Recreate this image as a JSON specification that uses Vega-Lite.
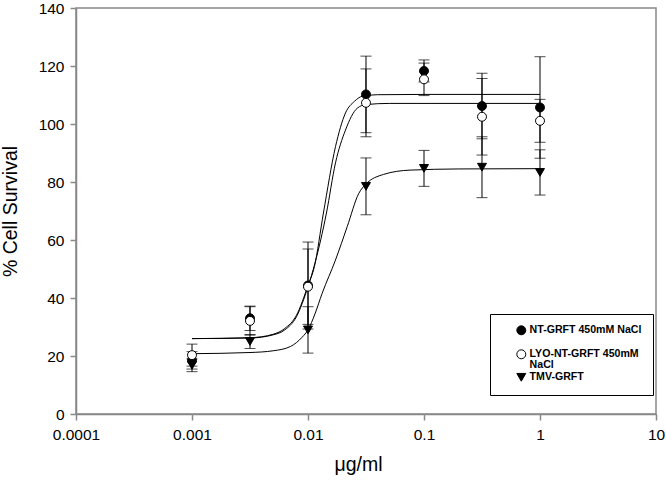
{
  "$schema": "https://vega.github.io/schema/vega-lite/v6.json",
  "width": 580,
  "height": 406,
  "autosize": "none",
  "padding": {"left": 76, "top": 8, "right": 10, "bottom": 72},
  "background": "white",
  "config": {
    "view": {"stroke": "#888888", "strokeWidth": 1.5},
    "style": {"guide-label": {"lineHeight": 10.5}},
    "axis": {
      "grid": false,
      "domainColor": "#888888",
      "domainWidth": 1.5,
      "tickColor": "#888888",
      "tickWidth": 1.5,
      "tickSize": 6,
      "labelFont": "Liberation Sans",
      "labelFontSize": 15.5,
      "labelColor": "black",
      "titleFont": "Liberation Sans",
      "titleFontSize": 19.5,
      "titleFontWeight": "normal",
      "titleColor": "black"
    },
    "legend": {
      "orient": "none", "legendX": 414, "legendY": 306, "title": null,
      "strokeColor": "black", "fillColor": "white", "padding": 11,
      "symbolOffset": 15, "symbolSize": 80, "symbolStrokeColor": "black", "symbolStrokeWidth": 1,
      "labelFont": "Liberation Sans", "labelFontWeight": "bold", "labelFontSize": 10.6, "labelColor": "black",
      "labelOffset": 3, "labelLimit": 0, "rowPadding": 0
    }
  },
  "datasets": {
    "pts": [
      {"dose": 0.001, "v": 16.8, "lo": 14.6, "hi": 19.0, "series": "TMV-GRFT"},
      {"dose": 0.003162, "v": 25.0, "lo": 22.6, "hi": 27.4, "series": "TMV-GRFT"},
      {"dose": 0.01, "v": 29.0, "lo": 21.0, "hi": 37.0, "series": "TMV-GRFT"},
      {"dose": 0.03162, "v": 78.5, "lo": 68.7, "hi": 88.3, "series": "TMV-GRFT"},
      {"dose": 0.1, "v": 84.7, "lo": 78.5, "hi": 90.9, "series": "TMV-GRFT"},
      {"dose": 0.3162, "v": 85.1, "lo": 74.6, "hi": 95.6, "series": "TMV-GRFT"},
      {"dose": 1, "v": 83.3, "lo": 75.5, "hi": 91.1, "series": "TMV-GRFT"},
      {"dose": 0.001, "v": 18.5, "lo": 15.5, "hi": 21.5, "series": "NT-GRFT 450mM NaCl"},
      {"dose": 0.003162, "v": 33.0, "lo": 28.8, "hi": 37.2, "series": "NT-GRFT 450mM NaCl"},
      {"dose": 0.01, "v": 44.3, "lo": 29.3, "hi": 59.3, "series": "NT-GRFT 450mM NaCl"},
      {"dose": 0.03162, "v": 110.2, "lo": 97.0, "hi": 123.4, "series": "NT-GRFT 450mM NaCl"},
      {"dose": 0.1, "v": 118.3, "lo": 114.5, "hi": 122.1, "series": "NT-GRFT 450mM NaCl"},
      {"dose": 0.3162, "v": 106.2, "lo": 94.9, "hi": 117.5, "series": "NT-GRFT 450mM NaCl"},
      {"dose": 1, "v": 105.7, "lo": 88.2, "hi": 123.2, "series": "NT-GRFT 450mM NaCl"},
      {"dose": 0.001, "v": 20.3, "lo": 16.5, "hi": 24.1, "series": "LYO-NT-GRFT 450mM NaCl"},
      {"dose": 0.003162, "v": 32.1, "lo": 27.2, "hi": 37.0, "series": "LYO-NT-GRFT 450mM NaCl"},
      {"dose": 0.01, "v": 43.9, "lo": 30.9, "hi": 56.9, "series": "LYO-NT-GRFT 450mM NaCl"},
      {"dose": 0.03162, "v": 107.3, "lo": 95.6, "hi": 119.0, "series": "LYO-NT-GRFT 450mM NaCl"},
      {"dose": 0.1, "v": 115.4, "lo": 109.8, "hi": 121.0, "series": "LYO-NT-GRFT 450mM NaCl"},
      {"dose": 0.3162, "v": 102.5, "lo": 89.3, "hi": 115.7, "series": "LYO-NT-GRFT 450mM NaCl"},
      {"dose": 1, "v": 101.1, "lo": 93.7, "hi": 108.5, "series": "LYO-NT-GRFT 450mM NaCl"}
    ],
    "curves": [
      {"dose": 0.001, "v": 26.0, "series": "NT"},
      {"dose": 0.003162, "v": 26.3, "series": "NT"},
      {"dose": 0.005012, "v": 27.5, "series": "NT"},
      {"dose": 0.00631, "v": 29.5, "series": "NT"},
      {"dose": 0.007943, "v": 34.0, "series": "NT"},
      {"dose": 0.01, "v": 44.3, "series": "NT"},
      {"dose": 0.01135, "v": 50.8, "series": "NT"},
      {"dose": 0.01358, "v": 69.3, "series": "NT"},
      {"dose": 0.01726, "v": 92.2, "series": "NT"},
      {"dose": 0.02104, "v": 103.8, "series": "NT"},
      {"dose": 0.02512, "v": 107.8, "series": "NT"},
      {"dose": 0.02951, "v": 109.6, "series": "NT"},
      {"dose": 0.03981, "v": 110.1, "series": "NT"},
      {"dose": 0.1, "v": 110.2, "series": "NT"},
      {"dose": 1, "v": 110.2, "series": "NT"},
      {"dose": 0.001, "v": 26.0, "series": "LYO"},
      {"dose": 0.003162, "v": 26.2, "series": "LYO"},
      {"dose": 0.005012, "v": 27.3, "series": "LYO"},
      {"dose": 0.00631, "v": 29.0, "series": "LYO"},
      {"dose": 0.007943, "v": 33.5, "series": "LYO"},
      {"dose": 0.01, "v": 43.9, "series": "LYO"},
      {"dose": 0.01148, "v": 52.0, "series": "LYO"},
      {"dose": 0.01442, "v": 69.3, "series": "LYO"},
      {"dose": 0.01726, "v": 86.6, "series": "LYO"},
      {"dose": 0.02104, "v": 97.9, "series": "LYO"},
      {"dose": 0.02667, "v": 105.5, "series": "LYO"},
      {"dose": 0.03162, "v": 106.7, "series": "LYO"},
      {"dose": 0.05012, "v": 107.1, "series": "LYO"},
      {"dose": 1, "v": 107.1, "series": "LYO"},
      {"dose": 0.001, "v": 20.8, "series": "TMV"},
      {"dose": 0.003162, "v": 21.2, "series": "TMV"},
      {"dose": 0.005012, "v": 21.8, "series": "TMV"},
      {"dose": 0.007079, "v": 23.3, "series": "TMV"},
      {"dose": 0.008913, "v": 26.5, "series": "TMV"},
      {"dose": 0.01, "v": 29.0, "series": "TMV"},
      {"dose": 0.01148, "v": 34.5, "series": "TMV"},
      {"dose": 0.01324, "v": 41.6, "series": "TMV"},
      {"dose": 0.01726, "v": 53.1, "series": "TMV"},
      {"dose": 0.02178, "v": 64.6, "series": "TMV"},
      {"dose": 0.02742, "v": 76.1, "series": "TMV"},
      {"dose": 0.03162, "v": 79.3, "series": "TMV"},
      {"dose": 0.04467, "v": 82.6, "series": "TMV"},
      {"dose": 0.07586, "v": 84.1, "series": "TMV"},
      {"dose": 0.1995, "v": 84.5, "series": "TMV"},
      {"dose": 1, "v": 84.6, "series": "TMV"}
    ]
  },
  "layer": [
    {
      "data": {"name": "curves"},
      "mark": {"type": "line", "color": "black", "strokeWidth": 1, "interpolate": "monotone"},
      "encoding": {
        "x": {
          "field": "dose", "type": "quantitative",
          "scale": {"type": "log", "domain": [0.0001, 10], "nice": false},
          "axis": {"values": [0.0001, 0.001, 0.01, 0.1, 1, 10], "format": "~g", "title": "μg/ml", "labelPadding": 7, "titlePadding": 13, "titleX": 282, "labelFlush": false}
        },
        "y": {
          "field": "v", "type": "quantitative",
          "scale": {"domain": [0, 140], "nice": false},
          "axis": {"values": [0, 20, 40, 60, 80, 100, 120, 140], "title": "% Cell Survival", "labelPadding": 6, "titlePadding": 18}
        },
        "detail": {"field": "series"}
      }
    },
    {
      "data": {"name": "pts"},
      "mark": {"type": "rule", "color": "black", "strokeWidth": 1},
      "encoding": {
        "x": {"field": "dose", "type": "quantitative"},
        "y": {"field": "lo", "type": "quantitative"},
        "y2": {"field": "hi"}
      }
    },
    {
      "data": {"name": "pts"},
      "mark": {"type": "tick", "orient": "horizontal", "color": "black", "thickness": 1, "size": 11},
      "encoding": {
        "x": {"field": "dose", "type": "quantitative"},
        "y": {"field": "lo", "type": "quantitative"}
      }
    },
    {
      "data": {"name": "pts"},
      "mark": {"type": "tick", "orient": "horizontal", "color": "black", "thickness": 1, "size": 11},
      "encoding": {
        "x": {"field": "dose", "type": "quantitative"},
        "y": {"field": "hi", "type": "quantitative"}
      }
    },
    {
      "data": {"name": "pts"},
      "mark": {"type": "point", "filled": true, "strokeWidth": 1, "size": 80, "opacity": 1},
      "encoding": {
        "x": {"field": "dose", "type": "quantitative"},
        "y": {"field": "v", "type": "quantitative"},
        "shape": {
          "field": "series", "type": "nominal",
          "scale": {"domain": ["NT-GRFT 450mM NaCl", "LYO-NT-GRFT 450mM NaCl", "TMV-GRFT"], "range": ["circle", "circle", "triangle-down"]},
          "legend": {"labelExpr": "datum.label == 'LYO-NT-GRFT 450mM NaCl' ? ['LYO-NT-GRFT 450mM', 'NaCl'] : datum.label == 'NT-GRFT 450mM NaCl' ? ['NT-GRFT 450mM NaCl', ''] : datum.label"}
        },
        "fill": {
          "field": "series", "type": "nominal",
          "scale": {"domain": ["NT-GRFT 450mM NaCl", "LYO-NT-GRFT 450mM NaCl", "TMV-GRFT"], "range": ["black", "white", "black"]},
          "legend": {"labelExpr": "datum.label == 'LYO-NT-GRFT 450mM NaCl' ? ['LYO-NT-GRFT 450mM', 'NaCl'] : datum.label == 'NT-GRFT 450mM NaCl' ? ['NT-GRFT 450mM NaCl', ''] : datum.label"}
        },
        "stroke": {
          "field": "series", "type": "nominal",
          "scale": {"domain": ["NT-GRFT 450mM NaCl", "LYO-NT-GRFT 450mM NaCl", "TMV-GRFT"], "range": ["black", "black", "black"]},
          "legend": {"labelExpr": "datum.label == 'LYO-NT-GRFT 450mM NaCl' ? ['LYO-NT-GRFT 450mM', 'NaCl'] : datum.label == 'NT-GRFT 450mM NaCl' ? ['NT-GRFT 450mM NaCl', ''] : datum.label"}
        }
      }
    }
  ]
}
